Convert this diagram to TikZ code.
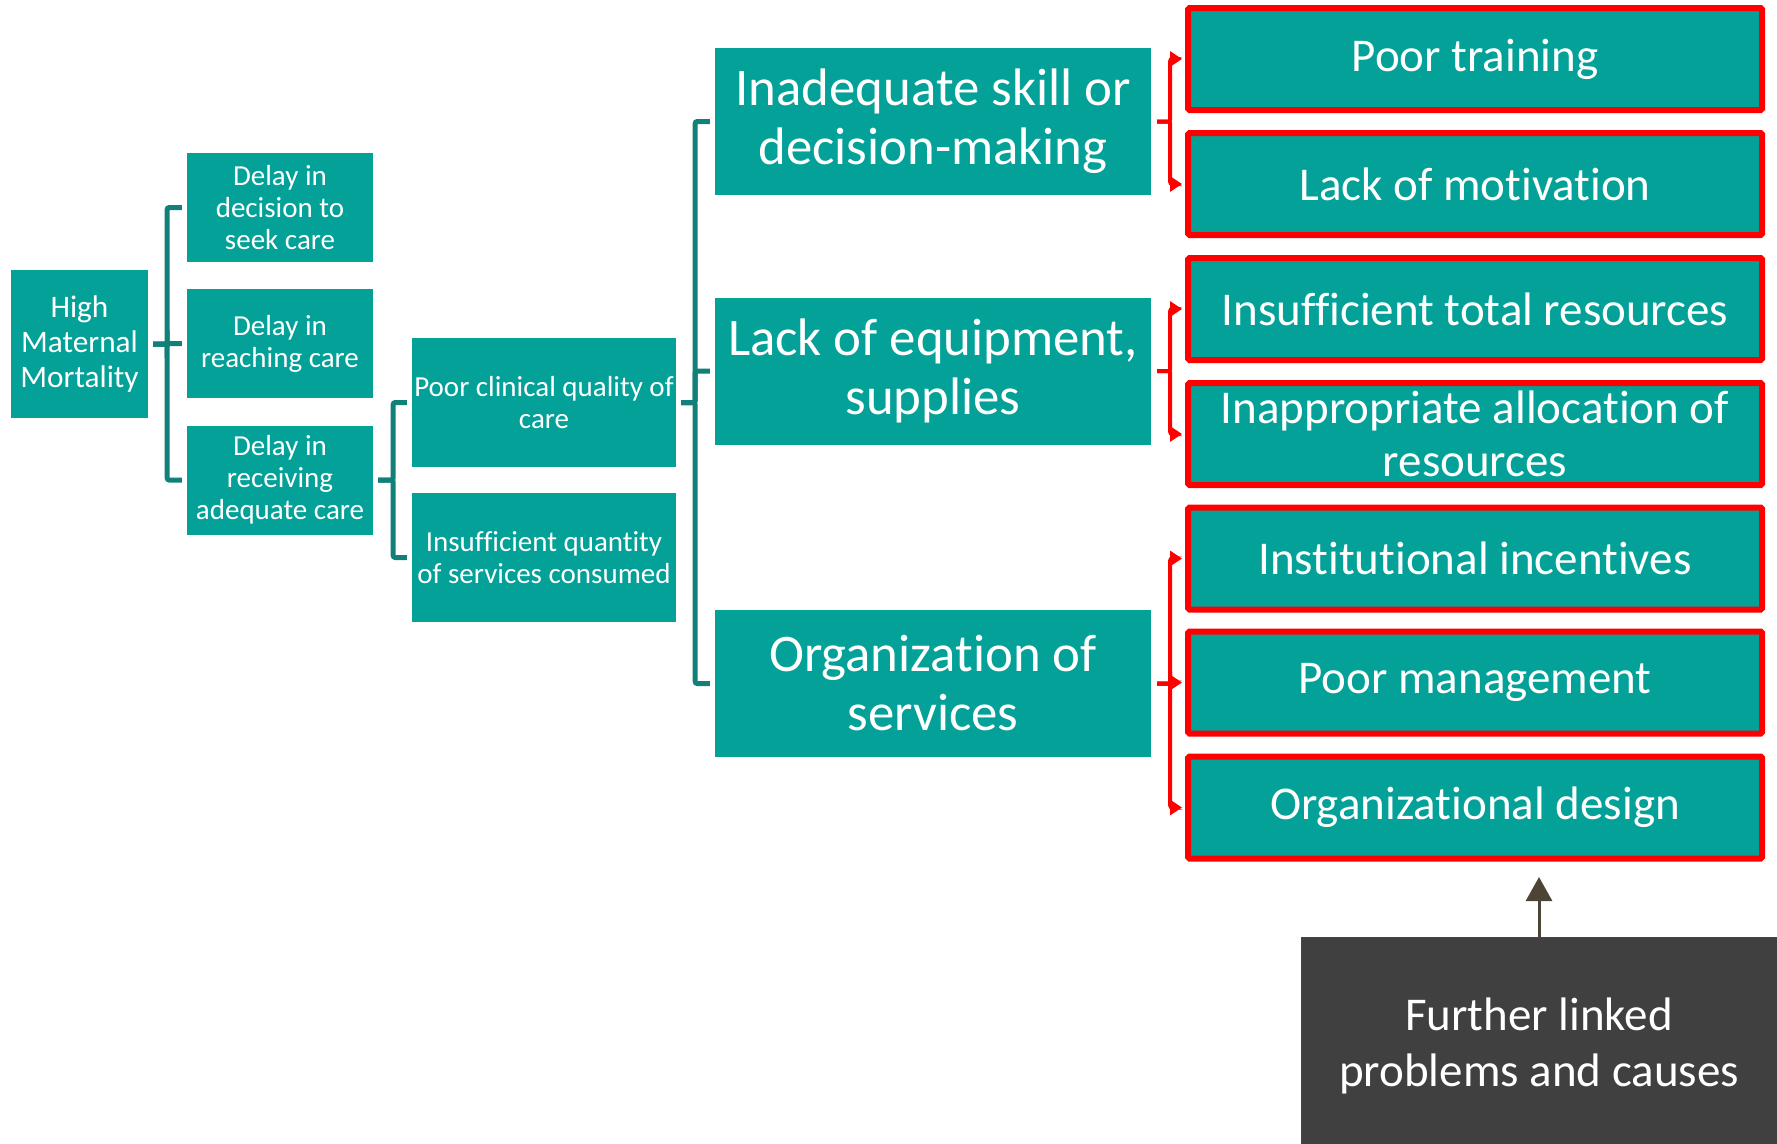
\documentclass[tikz,border=0pt]{standalone}
\usepackage{fontspec}
\setmainfont{Carlito}[Ligatures={NoCommon}]
\usetikzlibrary{arrows.meta}
\definecolor{tealfill}{RGB}{4,161,153}
\definecolor{tealline}{RGB}{17,128,121}
\definecolor{redline}{RGB}{255,0,0}
\definecolor{greyfill}{RGB}{64,64,64}
\definecolor{arrowbrown}{RGB}{76,69,54}
\begin{document}
\begin{tikzpicture}[x=1pt,y=-1pt,
  tbox/.style={fill=tealfill, text=white, align=center, inner sep=0pt, anchor=center},
  smallbox/.style={tbox, minimum width=186pt, minimum height=109pt, font=\fontsize{29}{32}\selectfont},
  midbox/.style={tbox, minimum width=264pt, minimum height=129pt, font=\fontsize{29}{32}\selectfont},
  bigbox/.style={tbox, minimum width=436pt, minimum height=147pt, font=\fontsize{52.8}{59}\selectfont},
  redbox/.style={tbox, draw=redline, line width=6pt, rounded corners=1.5pt, minimum width=574pt, minimum height=102pt, font=\fontsize{47}{53}\selectfont},
  tline/.style={draw=tealline, line width=5pt, rounded corners=2pt, shorten <=5pt, shorten >=5pt},
  rline/.style={draw=redline, line width=4pt, rounded corners=2pt, shorten <=6pt, shorten >=3pt, -{Triangle[length=12pt,width=15pt]}}
]
\useasboundingbox (0,0) rectangle (1777,1143);
\fill[white] (0,0) rectangle (1777,1143);

% level 0
\node[tbox, minimum width=137pt, minimum height=148pt, font=\fontsize{31.3}{35}\selectfont] (hmm) at (79.5,344) {High\\Maternal\\Mortality};

% level 1
\node[smallbox] (d1) at (280,207.5) {Delay in\\decision to\\seek care};
\node[smallbox] (d2) at (280,343.5) {Delay in\\reaching care};
\node[smallbox] (d3) at (280,480) {Delay in\\receiving\\adequate care};

% level 2
\node[midbox] (q1) at (544,402.5) {Poor clinical quality of\\care};
\node[midbox] (q2) at (544,557.5) {Insufficient quantity\\of services consumed};

% level 3
\node[bigbox] (c1) at (933,121.5) {Inadequate skill or\\decision-making};
\node[bigbox] (c2) at (933,371) {Lack of equipment,\\supplies};
\node[bigbox] (c3) at (933,683.5) {Organization of\\services};

% level 4
\node[redbox] (r1) at (1475,59) {Poor training};
\node[redbox] (r2) at (1475,184) {Lack of motivation};
\node[redbox] (r3) at (1475,309) {Insufficient total resources};
\node[redbox] (r4) at (1475,434) {Inappropriate allocation of\\resources};
\node[redbox] (r5) at (1475,558.5) {Institutional incentives};
\node[redbox] (r6) at (1475,682.5) {Poor management};
\node[redbox] (r7) at (1475,807.5) {Organizational design};

% further box (runs past the lower page edge)
\node[tbox, fill=greyfill, draw=arrowbrown, line width=1pt, minimum width=476pt, minimum height=218pt, font=\fontsize{47}{55.5}\selectfont] (fur) at (1539,1046) {Further linked\\problems and causes};
\coordinate (furtip) at (1539,877);

% teal connectors
\foreach \c in {d1,d2,d3} \draw[tline] (hmm.east) -- ++(19,0) |- (\c.west);
\foreach \c in {q1,q2} \draw[tline] (d3.east) -- ++(20,0) |- (\c.west);
\foreach \c in {c1,c2,c3} \draw[tline] (q1.east) -- ++(19,0) |- (\c.west);

% red connectors
\foreach \c in {r1,r2} \draw[rline] (c1.east) -- ++(19,0) |- (\c.west);
\foreach \c in {r3,r4} \draw[rline] (c2.east) -- ++(19,0) |- (\c.west);
\foreach \c in {r5,r6,r7} \draw[rline] (c3.east) -- ++(19,0) |- (\c.west);

% further arrow
\draw[draw=arrowbrown, line width=3pt, -{Triangle[length=24pt,width=26pt]}] (fur.north) -- (furtip);
\end{tikzpicture}
\end{document}
